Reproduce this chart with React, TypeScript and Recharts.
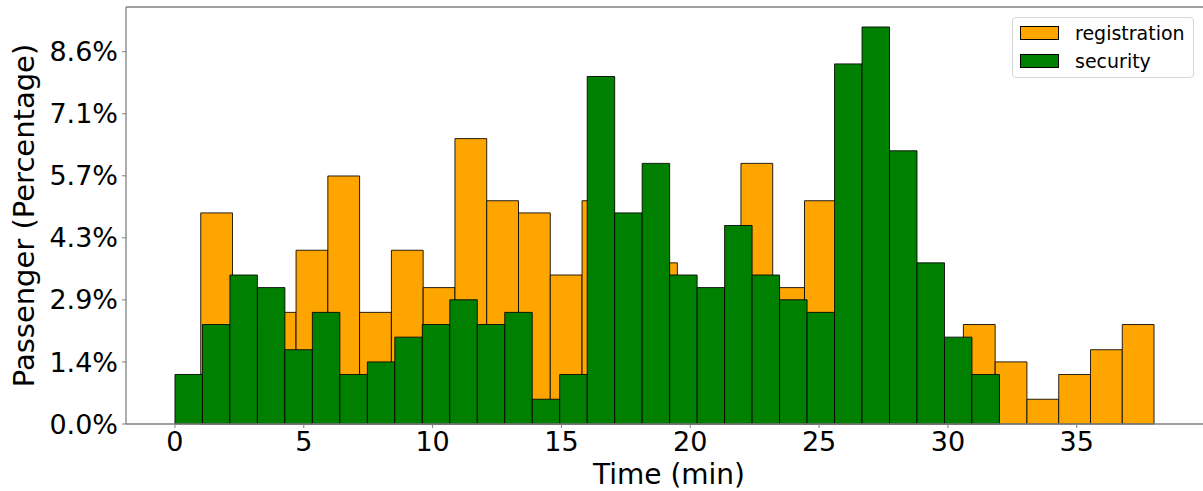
import React from 'react';
import {
  ComposedChart,
  XAxis,
  YAxis,
  Line,
  ReferenceArea,
  ReferenceLine,
  Legend,
} from 'recharts';

// Histogram bin edges (minutes)
const registrationEdges = [
  1.0, 2.2333, 3.4667, 4.7, 5.9333, 7.1667, 8.4, 9.6333, 10.8667, 12.1, 13.3333,
  14.5667, 15.8, 17.0333, 18.2667, 19.5, 20.7333, 21.9667, 23.2, 24.4333, 25.6667,
  26.9, 28.1333, 29.3667, 30.6, 31.8333, 33.0667, 34.3, 35.5333, 36.7667, 38.0,
];
const securityEdges = [
  0, 1.0667, 2.1333, 3.2, 4.2667, 5.3333, 6.4, 7.4667, 8.5333, 9.6, 10.6667, 11.7333,
  12.8, 13.8667, 14.9333, 16.0, 17.0667, 18.1333, 19.2, 20.2667, 21.3333, 22.4,
  23.4667, 24.5333, 25.6, 26.6667, 27.7333, 28.8, 29.8667, 30.9333, 32.0,
];

// Passenger share per bin (%)
const registrationValues = [
  4.86, 2.29, 2.57, 4.0, 5.71, 2.57, 4.0, 3.14, 6.57, 5.14, 4.86, 3.43, 5.14, 4.0, 3.71,
  2.29, 2.57, 6.0, 3.14, 5.14, 3.43, 2.86, 2.0, 1.14, 2.29, 1.43, 0.57, 1.14, 1.71, 2.29,
];
const securityValues = [
  1.14, 2.29, 3.43, 3.14, 1.71, 2.57, 1.14, 1.43, 2.0, 2.29, 2.86, 2.29, 2.57, 0.57, 1.14,
  8.0, 4.86, 6.0, 3.43, 3.14, 4.57, 3.43, 2.86, 2.57, 8.29, 9.14, 6.29, 3.71, 2.0, 1.14,
];

const xTicks = [0, 5, 10, 15, 20, 25, 30, 35];
const yTicks = [0, 1.4286, 2.8571, 4.2857, 5.7143, 7.1429, 8.5714];

const seriesNames = ['registration', 'security'];
const seriesColors = ['#FFA500', '#008000'];

const X_DOMAIN: [number, number] = [-1.9, 39.9];
const Y_DOMAIN: [number, number] = [0, 9.6];

const FONT = 'DejaVu Sans, Verdana, sans-serif';
const SPINE = '#808080';

// invisible anchor series (bin mid-points) so the chart has a data series
const anchorData = securityValues.map((v, i) => ({
  x: (securityEdges[i] + securityEdges[i + 1]) / 2,
  y: v,
}));

const LegendBox = () => (
  <div
    style={{
      position: 'relative',
      width: 182,
      height: 61,
      boxSizing: 'border-box',
      border: '1px solid #d6d6d6',
      borderRadius: 4,
      background: 'rgba(255,255,255,0.8)',
      fontFamily: FONT,
      fontSize: 19,
      color: '#000',
    }}
  >
    {seriesNames.map((name, i) => (
      <React.Fragment key={name}>
        <div
          style={{
            position: 'absolute',
            left: 7,
            top: 8 + i * 28,
            width: 39,
            height: 14,
            boxSizing: 'border-box',
            background: seriesColors[i],
            border: '1px solid #000',
          }}
        />
        <div
          style={{
            position: 'absolute',
            left: 62,
            top: 3 + i * 28,
            lineHeight: '24px',
            whiteSpace: 'nowrap',
          }}
        >
          {name}
        </div>
      </React.Fragment>
    ))}
  </div>
);

export default function App() {
  return (
    <div style={{ position: 'absolute', left: 0, top: 0, width: 1203, height: 491, background: '#fff' }}>
      <ComposedChart
        width={1203}
        height={491}
        margin={{ top: 7, right: 0, bottom: 0, left: 0 }}
        style={{ fontFamily: FONT }}
      >
        <XAxis
          type="number"
          dataKey="x"
          domain={X_DOMAIN}
          ticks={xTicks}
          allowDataOverflow
          height={67}
          tickSize={4}
          tickMargin={4}
          stroke={SPINE}
          axisLine={{ stroke: SPINE, strokeWidth: 1.3 }}
          tickLine={{ stroke: SPINE }}
          tick={{ fill: '#000', fontSize: 27, fontFamily: FONT }}
          label={{
            content: () => (
              <text x={669} y={484} textAnchor="middle" fontSize={28} fontFamily={FONT} fill="#000">
                Time (min)
              </text>
            ),
          }}
        />
        <YAxis
          type="number"
          domain={Y_DOMAIN}
          ticks={yTicks}
          allowDataOverflow
          width={126}
          tickSize={4}
          tickMargin={4}
          stroke={SPINE}
          axisLine={{ stroke: SPINE, strokeWidth: 1.3 }}
          tickLine={{ stroke: SPINE }}
          tick={{ fill: '#000', fontSize: 27, fontFamily: FONT }}
          tickFormatter={(v: number) => `${v.toFixed(1)}%`}
          label={{
            content: () => (
              <text
                x={34}
                y={215.5}
                textAnchor="middle"
                fontSize={29}
                fontFamily={FONT}
                fill="#000"
                transform="rotate(-90, 34, 215.5)"
              >
                Passenger (Percentage)
              </text>
            ),
          }}
        />
        {registrationValues.map((v, i) => (
          <ReferenceArea
            key={`r${i}`}
            x1={registrationEdges[i]}
            x2={registrationEdges[i + 1]}
            y1={0}
            y2={v}
            fill={seriesColors[0]}
            fillOpacity={1}
            stroke="#000"
            strokeWidth={1}
            strokeOpacity={0.85}
            ifOverflow="visible"
          />
        ))}
        {securityValues.map((v, i) => (
          <ReferenceArea
            key={`s${i}`}
            x1={securityEdges[i]}
            x2={securityEdges[i + 1]}
            y1={0}
            y2={v}
            fill={seriesColors[1]}
            fillOpacity={1}
            stroke="#000"
            strokeWidth={1}
            strokeOpacity={0.85}
            ifOverflow="visible"
          />
        ))}
        <ReferenceLine y={Y_DOMAIN[1]} stroke={SPINE} strokeWidth={1.3} ifOverflow="visible" />
        <Line
          data={anchorData}
          dataKey="y"
          stroke="none"
          dot={false}
          activeDot={false}
          legendType="none"
          isAnimationActive={false}
        />
        <Legend
          layout="vertical"
          align="center"
          verticalAlign="middle"
          wrapperStyle={{ left: 1012, top: 17, width: 182, height: 61 }}
          content={() => <LegendBox />}
        />
      </ComposedChart>
    </div>
  );
}
